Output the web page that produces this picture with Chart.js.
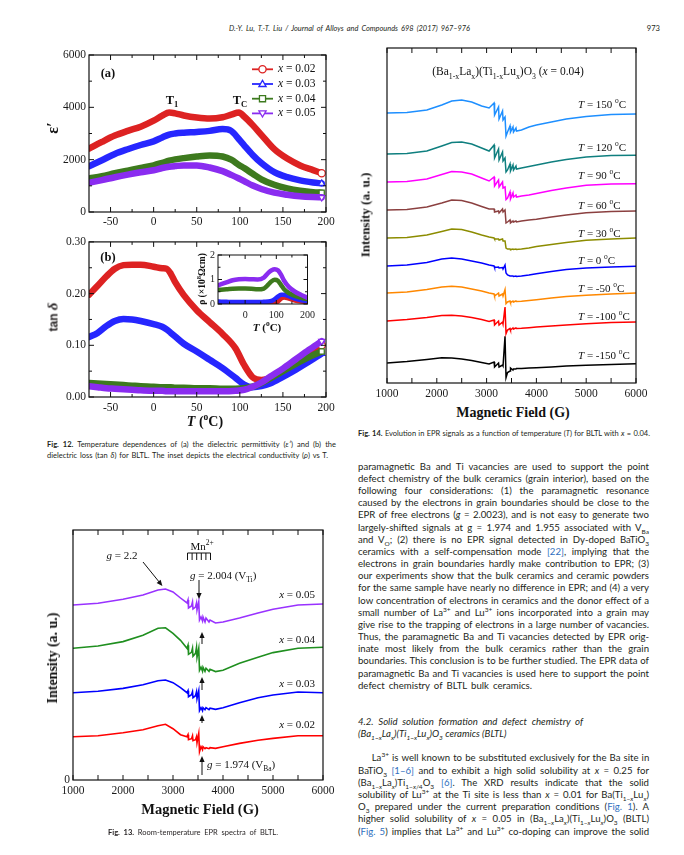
<!DOCTYPE html>
<html>
<head>
<meta charset="utf-8">
<script src="https://cdn.jsdelivr.net/npm/chart.js@4.4.1/dist/chart.umd.min.js"></script>
<style>
html, body { margin: 0; padding: 0; background: #fff; }
#page { position: relative; width: 684px; height: 855px; overflow: hidden; background: #fff; color: #231f20; }
.box { position: absolute; }
.t { position: absolute; white-space: nowrap; line-height: 1; }
.ser { font-family: 'Liberation Serif', 'Times New Roman', serif; color: #111; }
.txt { font-family: Lato, 'Open Sans', sans-serif; }
.c { transform: translate(-50%, -50%); }
.l { transform: translate(0, -50%); }
.r { transform: translate(-100%, -50%); }
.rot { transform: translate(-50%, -50%) rotate(-90deg); }
sub, sup { font-size: 68%; line-height: 0; }
.ln { position: absolute; left: 358px; white-space: nowrap; font-family: Lato, sans-serif; font-size: 9.6px; line-height: 12px; color: #231f20; transform: translate(0, -50%); }
.cap { position: absolute; white-space: nowrap; font-family: Lato, sans-serif; font-size: 7.5px; line-height: 10px; color: #231f20; transform: translate(0, -50%); }
a { color: #2f6fc0; text-decoration: none; }
</style>
</head>
<body>
<div id="page">
  <!-- running head -->
  <div class="t txt l" style="left:229px;top:29px;font-size:7.4px;font-style:italic" data-w="241">D.-Y. Lu, T.-T. Liu / Journal of Alloys and Compounds 698 (2017) 967–976</div>
  <div class="t txt r" style="left:660px;top:29px;font-size:7.6px">973</div>

  <!-- Fig. 12 -->
  <div class="box" style="left:50px;top:45px;width:290px;height:185px"><canvas id="fig12a"></canvas></div>
  <div class="box" style="left:50px;top:232px;width:290px;height:185px"><canvas id="fig12b"></canvas></div>
  <div class="box" style="left:198px;top:246px;width:122px;height:76px"><canvas id="fig12inset"></canvas></div>
  <div class="t ser c" style="left:108px;top:73px;font-size:12.5px;font-weight:bold">(a)</div>
  <div class="t ser c" style="left:108px;top:257px;font-size:12.5px;font-weight:bold">(b)</div>
  <div class="t ser c" style="left:172px;top:100px;font-size:12.5px;font-weight:bold">T<sub>1</sub></div>
  <div class="t ser c" style="left:240px;top:100px;font-size:12.5px;font-weight:bold">T<sub>C</sub></div>
  <div class="t ser rot" style="left:53px;top:128px;font-size:16px;font-weight:bold">ε′</div>
  <div class="t rot" style="left:53px;top:317px;font-size:12px;font-weight:bold;font-family:'Liberation Sans',sans-serif">tan <span style="font-family:'Liberation Serif';font-size:15px;font-style:italic">δ</span></div>
  <div class="t ser rot" style="left:203px;top:279px;font-size:9.5px;font-weight:bold">ρ (×10<sup>8</sup>Ωcm)</div>
  <div class="t ser c" style="left:267px;top:327px;font-size:11px;font-weight:bold"><i>T</i> (<sup>o</sup>C)</div>
  <div class="t ser c" style="left:205px;top:422px;font-size:14px;font-weight:bold"><i>T</i> (<sup>o</sup>C)</div>
  <div class="cap" style="left:47px;top:445px" data-w="289"><b>Fig. 12.</b> Temperature dependences of (a) the dielectric permittivity (<i>ε′</i>) and (b) the</div>
  <div class="cap" style="left:47px;top:455.7px" data-w="281">dielectric loss (tan <i>δ</i>) for BLTL. The inset depicts the electrical conductivity (<i>ρ</i>) vs T.</div>

  <!-- Fig. 14 -->
  <div class="box" style="left:370px;top:40px;width:300px;height:365px"><canvas id="fig14"></canvas></div>
  <div class="t ser c" style="left:508px;top:72px;font-size:11.5px">(Ba<sub>1-x</sub>La<sub>x</sub>)(Ti<sub>1-x</sub>Lu<sub>x</sub>)O<sub>3</sub> (<i>x</i> = 0.04)</div>
  <div class="t ser l" style="left:578px;top:104px;font-size:11px"><i>T</i> = 150 <sup>o</sup>C</div>
  <div class="t ser l" style="left:578px;top:147px;font-size:11px"><i>T</i> = 120 <sup>o</sup>C</div>
  <div class="t ser l" style="left:578px;top:175px;font-size:11px"><i>T</i> = 90 <sup>o</sup>C</div>
  <div class="t ser l" style="left:578px;top:205px;font-size:11px"><i>T</i> = 60 <sup>o</sup>C</div>
  <div class="t ser l" style="left:578px;top:233px;font-size:11px"><i>T</i> = 30 <sup>o</sup>C</div>
  <div class="t ser l" style="left:578px;top:260px;font-size:11px"><i>T</i> = 0 <sup>o</sup>C</div>
  <div class="t ser l" style="left:578px;top:288px;font-size:11px"><i>T</i> = -50 <sup>o</sup>C</div>
  <div class="t ser l" style="left:578px;top:316px;font-size:11px"><i>T</i> = -100 <sup>o</sup>C</div>
  <div class="t ser l" style="left:578px;top:355px;font-size:11px"><i>T</i> = -150 <sup>o</sup>C</div>
  <div class="t ser rot" style="left:365px;top:215px;font-size:13px;font-weight:bold">Intensity (a. u.)</div>
  <div class="t ser c" style="left:513px;top:413px;font-size:14px;font-weight:bold">Magnetic Field (G)</div>
  <div class="cap" style="left:358px;top:434px" data-w="292"><b>Fig. 14.</b> Evolution in EPR signals as a function of temperature (<i>T</i>) for BLTL with <i>x</i> = 0.04.</div>

  <!-- Fig. 13 -->
  <div class="box" style="left:50px;top:520px;width:290px;height:282px"><canvas id="fig13"></canvas></div>
  <div class="t ser c" style="left:122px;top:555px;font-size:11px"><i>g</i> = 2.2</div>
  <div class="t ser c" style="left:202px;top:546px;font-size:11px">Mn<sup>2+</sup></div>
  <div class="t ser l" style="left:190px;top:575px;font-size:11px"><i>g</i> = 2.004 (V<sub>Ti</sub>)</div>
  <div class="t ser r" style="left:315px;top:594px;font-size:11px"><i>x</i> = 0.05</div>
  <div class="t ser r" style="left:315px;top:639px;font-size:11px"><i>x</i> = 0.04</div>
  <div class="t ser r" style="left:315px;top:683px;font-size:11px"><i>x</i> = 0.03</div>
  <div class="t ser r" style="left:315px;top:724px;font-size:11px"><i>x</i> = 0.02</div>
  <div class="t ser l" style="left:207px;top:764px;font-size:11px"><i>g</i> = 1.974 (V<sub>Ba</sub>)</div>
  <div class="t ser rot" style="left:53px;top:658px;font-size:14px;font-weight:bold">Intensity (a. u.)</div>
  <div class="t ser c" style="left:200px;top:809px;font-size:14.5px;font-weight:bold">Magnetic Field (G)</div>
  <div class="cap" style="left:108px;top:832.7px" data-w="170"><b>Fig. 13.</b> Room-temperature EPR spectra of BLTL.</div>

  <!-- body text -->
  <div class="ln" style="top:466.7px" data-w="291">paramagnetic Ba and Ti vacancies are used to support the point</div>
  <div class="ln" style="top:478.9px" data-w="291">defect chemistry of the bulk ceramics (grain interior), based on the</div>
  <div class="ln" style="top:491.0px" data-w="291">following four considerations: (1) the paramagnetic resonance</div>
  <div class="ln" style="top:503.2px" data-w="291">caused by the electrons in grain boundaries should be close to the</div>
  <div class="ln" style="top:515.4px" data-w="291">EPR of free electrons (<i>g</i> = 2.0023), and is not easy to generate two</div>
  <div class="ln" style="top:527.6px" data-w="291">largely-shifted signals at g = 1.974 and 1.955 associated with V<sub>Ba</sub></div>
  <div class="ln" style="top:539.7px" data-w="291">and V<sub>O</sub>; (2) there is no EPR signal detected in Dy-doped BaTiO<sub>3</sub></div>
  <div class="ln" style="top:551.9px" data-w="291">ceramics with a self-compensation mode <a>[22]</a>, implying that the</div>
  <div class="ln" style="top:564.1px" data-w="291">electrons in grain boundaries hardly make contribution to EPR; (3)</div>
  <div class="ln" style="top:576.2px" data-w="291">our experiments show that the bulk ceramics and ceramic powders</div>
  <div class="ln" style="top:588.4px" data-w="291">for the same sample have nearly no difference in EPR; and (4) a very</div>
  <div class="ln" style="top:600.6px" data-w="291">low concentration of electrons in ceramics and the donor effect of a</div>
  <div class="ln" style="top:612.7px" data-w="291">small number of La<sup>3+</sup> and Lu<sup>3+</sup> ions incorporated into a grain may</div>
  <div class="ln" style="top:624.9px" data-w="291">give rise to the trapping of electrons in a large number of vacancies.</div>
  <div class="ln" style="top:637.1px" data-w="291">Thus, the paramagnetic Ba and Ti vacancies detected by EPR orig-</div>
  <div class="ln" style="top:649.3px" data-w="291">inate most likely from the bulk ceramics rather than the grain</div>
  <div class="ln" style="top:661.4px" data-w="291">boundaries. This conclusion is to be further studied. The EPR data of</div>
  <div class="ln" style="top:673.6px" data-w="291">paramagnetic Ba and Ti vacancies is used here to support the point</div>
  <div class="ln" style="top:685.8px" data-w="174">defect chemistry of BLTL bulk ceramics.</div>
  <div class="ln" style="top:721.7px;font-style:italic" data-w="225">4.2. Solid solution formation and defect chemistry of</div>
  <div class="ln" style="top:734.3px;font-style:italic">(Ba<sub>1−<i>x</i></sub>La<sub><i>x</i></sub>)(Ti<sub>1−<i>x</i></sub>Lu<sub><i>x</i></sub>)O<sub>3</sub> ceramics (BLTL)</div>
  <div class="ln" style="top:758.3px;left:371.7px" data-w="277.6">La<sup>3+</sup> is well known to be substituted exclusively for the Ba site in</div>
  <div class="ln" style="top:770.5px" data-w="291">BaTiO<sub>3</sub> <a>[1–6]</a> and to exhibit a high solid solubility at <i>x</i> = 0.25 for</div>
  <div class="ln" style="top:782.7px" data-w="291">(Ba<sub>1−<i>x</i></sub>La<sub><i>x</i></sub>)Ti<sub>1−<i>x</i>/4</sub>O<sub>3</sub> <a>[6]</a>. The XRD results indicate that the solid</div>
  <div class="ln" style="top:794.9px" data-w="291">solubility of Lu<sup>3+</sup> at the Ti site is less than <i>x</i> = 0.01 for Ba(Ti<sub>1−<i>x</i></sub>Lu<sub><i>x</i></sub>)</div>
  <div class="ln" style="top:807.1px" data-w="291">O<sub>3</sub> prepared under the current preparation conditions (<a>Fig. 1</a>). A</div>
  <div class="ln" style="top:819.3px" data-w="291">higher solid solubility of <i>x</i> = 0.05 in (Ba<sub>1−<i>x</i></sub>La<sub><i>x</i></sub>)(Ti<sub>1−<i>x</i></sub>Lu<sub><i>x</i></sub>)O<sub>3</sub> (BLTL)</div>
  <div class="ln" style="top:831.5px" data-w="291">(<a>Fig. 5</a>) implies that La<sup>3+</sup> and Lu<sup>3+</sup> co-doping can improve the solid</div>
</div>

<script>
// 1. Fig. 12 data (permittivity, loss, resistivity vs temperature)
const SAMPLES = ['0.02', '0.03', '0.04', '0.05'];

const T12A = [-75, -60, -45, -30, -15, 0, 10, 18, 25, 35, 50, 65, 80, 90, 99, 105, 115, 125, 140, 155, 170, 185, 195];
const EPS_002 = [2420, 2680, 2920, 3100, 3260, 3490, 3680, 3800, 3770, 3690, 3610, 3570, 3620, 3720, 3800, 3650, 3320, 2950, 2400, 2040, 1780, 1600, 1480];
const EPS_003 = [1750, 1980, 2220, 2400, 2560, 2700, 2850, 2960, 3000, 3030, 3060, 3100, 3170, 3100, 2780, 2550, 2180, 1870, 1520, 1330, 1210, 1130, 1090];
const EPS_004 = [1280, 1370, 1480, 1580, 1680, 1785, 1880, 1960, 2010, 2060, 2120, 2160, 2120, 2000, 1800, 1680, 1460, 1250, 1040, 900, 810, 760, 735];
const EPS_005 = [1115, 1220, 1330, 1430, 1520, 1595, 1680, 1730, 1755, 1780, 1780, 1700, 1560, 1420, 1280, 1180, 1010, 880, 740, 660, 600, 570, 560];

const T12B = [-75, -65, -55, -45, -35, -25, -15, 0, 10, 15, 20, 25, 35, 50, 65, 80, 95, 105, 115, 125, 135, 150, 165, 180, 195];
const TAN_002 = [0.198, 0.215, 0.233, 0.248, 0.255, 0.256, 0.256, 0.252, 0.249, 0.248, 0.238, 0.222, 0.197, 0.168, 0.145, 0.122, 0.094, 0.062, 0.038, 0.033, 0.036, 0.048, 0.063, 0.080, 0.100];
const TAN_003 = [0.116, 0.124, 0.137, 0.147, 0.151, 0.150, 0.147, 0.141, 0.136, 0.131, 0.124, 0.117, 0.103, 0.088, 0.072, 0.056, 0.037, 0.024, 0.019, 0.021, 0.026, 0.039, 0.053, 0.068, 0.084];
const TAN_004 = [0.027, 0.026, 0.025, 0.024, 0.023, 0.022, 0.021, 0.020, 0.019, 0.019, 0.019, 0.018, 0.018, 0.017, 0.017, 0.016, 0.016, 0.017, 0.020, 0.027, 0.036, 0.050, 0.064, 0.077, 0.088];
const TAN_005 = [0.021, 0.019, 0.017, 0.016, 0.015, 0.014, 0.013, 0.012, 0.012, 0.011, 0.011, 0.011, 0.011, 0.011, 0.011, 0.011, 0.012, 0.014, 0.020, 0.028, 0.039, 0.055, 0.073, 0.091, 0.108];

const T_INSET = [-85, -60, -40, -20, 0, 20, 40, 60, 75, 85, 95, 105, 115, 125, 140, 160, 180, 200];
const RHO_002 = [0.01, 0.01, 0.01, 0.01, 0.01, 0.01, 0.01, 0.01, 0.01, 0.02, 0.04, 0.10, 0.22, 0.27, 0.22, 0.14, 0.10, 0.08];
const RHO_003 = [0.10, 0.09, 0.08, 0.08, 0.08, 0.08, 0.08, 0.09, 0.10, 0.13, 0.20, 0.30, 0.38, 0.38, 0.32, 0.22, 0.15, 0.12];
const RHO_004 = [0.58, 0.60, 0.62, 0.63, 0.63, 0.62, 0.60, 0.63, 0.80, 0.93, 0.99, 0.95, 0.78, 0.60, 0.45, 0.33, 0.25, 0.20];
const RHO_005 = [0.77, 0.88, 0.97, 1.01, 1.02, 1.01, 1.00, 1.08, 1.28, 1.38, 1.42, 1.38, 1.20, 0.95, 0.70, 0.50, 0.37, 0.25];

const T12_TICKS = [-50, 0, 50, 100, 150, 200];
const EPS_TICKS = [0, 2000, 4000, 6000];
const TAN_TICKS = [0, 0.1, 0.2, 0.3];
const INSET_T_TICKS = [0, 100, 200];
const RHO_TICKS = [0, 1, 2];

// 2. Fig. 14 data (EPR vs temperature, x = 0.04), intensity relative to each trace's left end
const FIELD14 = [1000, 1400, 1800, 2100, 2300, 2500, 2700, 2900, 3050, 3150, 3160, 3240, 3250, 3320, 3330, 3370, 3390, 3420, 3470, 3480, 3530, 3540, 3590, 3600, 3700, 3850, 4000, 4300, 4600, 5000, 5500, 6000];
const TEMPS14 = ['150', '120', '90', '60', '30', '0', '-50', '-100', '-150'];
const EPR_150 = [0, 0.5, 3, 8, 12, 13, 11, 7, 5, 10, -2, 6, -6, 2, -7, -4, -23, -19, -13, -19, -14, -19, -15, -18, -17, -14, -12, -9, -6, -3.5, -1.5, -1];
const EPR_120 = [0, 0.5, 3, 8, 11.5, 12, 10, 6, 3, 9, -4, 5, -6, 2, -7, -4, -18, -16, -10, -17, -11, -16, -12, -15, -14, -12.5, -11, -8, -5.5, -3, -1.5, -1.3];
const EPR_90 = [0, 0.5, 3, 7.5, 10.5, 10, 8, 4, 1, 5, -4, 2, -5, 0, -6, -5, -17.5, -16, -10, -17, -11, -15, -13, -15, -14, -13, -11.5, -8.5, -6, -3.3, -2, -1.7];
const EPR_60 = [0, 0.5, 3, 7, 10, 9.5, 7, 3.5, 1, 1, -2, -1, -3, 1, -2, 0, -13, -12, -10, -13, -11, -12, -11, -12, -11, -10, -9.3, -7, -5, -2.7, -1.5, -1];
const EPR_30 = [0, 0.5, 3, 6.5, 9, 8.5, 6, 3, 1, 0, -1, -1, -2, -1, -3, -3, -10, -11, -11, -11.5, -11, -11.5, -11, -11.5, -11, -10, -8.5, -6.5, -4.5, -2.3, -1, 0];
const EPR_0 = [0, 1, 3.5, 7, 8, 7, 5, 3, 1, 0, -1.5, -1, -2, -1.5, -3, 1, -7, -9, -10, -10, -10, -10.5, -10, -10.5, -10, -9, -7.7, -5.5, -3.5, -2, -1, -0.3];
const EPR_M50 = [0, 1, 3.5, 6, 6.7, 6, 4, 2, 0, -1, -3, 0, -3, -1, -3, 3.5, -10.7, -9, -8, -9.5, -8, -9, -8, -8.5, -8.3, -7.5, -6.7, -5, -3.5, -2.3, -1, 0];
const EPR_M100 = [0, 1.5, 3.5, 5.5, 5.7, 5, 3.5, 1.5, -0.5, 1, -4, 0, -4, -1, -3, 14, -12.7, -9, -7.5, -9, -7, -8, -7, -7.5, -7.3, -6.7, -6, -5, -4, -2.7, -1.5, -1];
const EPR_M150 = [0, 1.5, 3.5, 5.3, 5, 4, 2.5, 0.5, -1, 1, -4, 0, -4, -2, -3, 26.7, -14.7, -9.5, -8, -5, -7, -6, -6, -5.5, -5.5, -5, -4.7, -4, -3, -2.3, -1.5, -0.7];
const OFFSET14 = [270, 229, 201, 173, 145, 117, 90, 62, 20];

// 3. Fig. 13 data (room-temperature EPR for x = 0.05 ... 0.02)
const FIELD13 = [1000, 1500, 2000, 2400, 2700, 2850, 3000, 3150, 3280, 3300, 3310, 3370, 3390, 3400, 3450, 3470, 3480, 3515, 3530, 3560, 3590, 3600, 3640, 3660, 3720, 3740, 3850, 4000, 4330, 4700, 5000, 5500, 6000];
const EPR13_005 = [0, 1.7, 5.7, 10, 15, 16, 13, 7, 2, 5, -3, -1, 3, -4, -2, 2, -5, 3.3, -15, -12, -16, -12, -17, -13, -17, -15, -18, -17, -13, -8, -4.3, 0, 1];
const EPR13_004 = [0, 2.3, 6.7, 13, 20, 20.5, 15, 8, 0, 3, -6, -4, 0, -8, -5, 1, -9, 0, -22, -19, -23, -19, -23, -20, -23, -21, -23.3, -22, -15, -9, -4.3, 0, 1];
const EPR13_003 = [0, 1.5, 4.3, 8, 12, 12.7, 10, 5, 0, 2, -4, -2, 1, -5, -3, 1, -6, 2, -18, -15, -18, -15, -17, -15, -17, -15.5, -16.7, -15, -10, -5, -2.3, 0.7, 0];
const EPR13_002 = [0, 1, 4, 7, 11, 12.4, 8, 2, 0, 2, -3, -2, 1, -4, -3, 0, -6, 3.3, -15, -10, -13, -10, -12, -11, -12, -11, -11.7, -10, -6.7, -3.5, -1.7, 1, 1];
const OFFSET13 = [175, 131.7, 87.3, 43.3];

const FIELD_TICKS = [1000, 2000, 3000, 4000, 5000, 6000];
const FIELD_MINOR = [1500, 2500, 3500, 4500, 5500];

// 4. Helpers
const pts = (xs, ys, off = 0) => xs.map((x, i) => ({ x, y: ys[i] + off }));
const serif = size => ({ family: "'Liberation Serif', 'Times New Roman', serif", size });

function axis(min, max, ticks, fit, isX, opts = {}) {
    return {
        type: 'linear', min, max,
        grid: { display: false, drawTicks: false },
        border: { display: false },
        ticks: {
            display: ticks.length > 0,
            font: serif(opts.size || 11.5),
            color: '#1a1a1a',
            padding: opts.pad || 3,
            maxRotation: 0,
            autoSkip: false,
            callback: opts.fmt || (v => String(v))
        },
        afterBuildTicks: s => { s.ticks = ticks.map(v => ({ value: v })); },
        afterFit: s => { if (isX) s.height = fit; else s.width = fit; }
    };
}

function framePlugin(f) {
    return {
        id: 'frame',
        afterDatasetsDraw(chart) {
            const { ctx, chartArea: a, scales: { x, y } } = chart;
            ctx.save();
            ctx.strokeStyle = '#111';
            ctx.lineWidth = f.lw || 1.2;
            ctx.strokeRect(a.left, a.top, a.right - a.left, a.bottom - a.top);
            ctx.lineWidth = 1;
            ctx.beginPath();
            const xt = (vals, len) => (vals || []).forEach(v => {
                const p = x.getPixelForValue(v);
                ctx.moveTo(p, a.bottom); ctx.lineTo(p, a.bottom - len);
                if (f.top) { ctx.moveTo(p, a.top); ctx.lineTo(p, a.top + len); }
            });
            const yt = (vals, len) => (vals || []).forEach(v => {
                const p = y.getPixelForValue(v);
                ctx.moveTo(a.left, p); ctx.lineTo(a.left + len, p);
                if (f.right) { ctx.moveTo(a.right, p); ctx.lineTo(a.right - len, p); }
            });
            xt(f.xMajor, f.len || 5); xt(f.xMinor, f.minor || 3);
            yt(f.yMajor, f.len || 5); yt(f.yMinor, f.minor || 3);
            ctx.stroke();
            ctx.restore();
        }
    };
}

function drawMark(ctx, style, x, y, r, color) {
    ctx.save();
    ctx.fillStyle = '#fff';
    ctx.strokeStyle = color;
    ctx.lineWidth = 1.3;
    ctx.beginPath();
    if (style === 'circle') ctx.arc(x, y, r, 0, Math.PI * 2);
    else if (style === 'rect') ctx.rect(x - r * 0.85, y - r * 0.85, r * 1.7, r * 1.7);
    else if (style === 'up') { ctx.moveTo(x, y - r); ctx.lineTo(x + r, y + r * 0.7); ctx.lineTo(x - r, y + r * 0.7); ctx.closePath(); }
    else { ctx.moveTo(x, y + r); ctx.lineTo(x + r, y - r * 0.7); ctx.lineTo(x - r, y - r * 0.7); ctx.closePath(); }
    ctx.fill(); ctx.stroke();
    ctx.restore();
}

function makeChart(id, datasets, scales, m, plugins) {
    return new Chart(document.getElementById(id), {
        type: 'line',
        data: { datasets },
        options: {
            responsive: true,
            maintainAspectRatio: false,
            animation: false,
            events: [],
            layout: { padding: { top: m.t, right: m.r, left: 0, bottom: 0 }, autoPadding: false },
            plugins: { legend: { display: false }, tooltip: { enabled: false } },
            scales
        },
        plugins
    });
}

// 5. Fig. 12
const C12 = ['#dd2222', '#2626ff', '#3d7a1e', '#8a2cf0'];
const MARKS = [
    { style: 'circle', ps: 'circle', rot: 0 },
    { style: 'up', ps: 'triangle', rot: 0 },
    { style: 'rect', ps: 'rect', rot: 0 },
    { style: 'down', ps: 'triangle', rot: 180 }
];

function thickSet(xs, ys, i, width) {
    const n = xs.length;
    return {
        data: pts(xs, ys),
        borderColor: C12[i],
        borderWidth: width,
        borderCapStyle: 'round',
        borderJoinStyle: 'round',
        cubicInterpolationMode: 'monotone',
        pointRadius: ctx => (ctx.dataIndex === n - 1 ? 3.6 : 0),
        pointStyle: MARKS[i].ps,
        pointRotation: MARKS[i].rot,
        pointBackgroundColor: '#fff',
        pointBorderColor: C12[i],
        pointBorderWidth: 1.2,
        order: 3 - i
    };
}

const legend12 = {
    id: 'legend12',
    afterDatasetsDraw(chart) {
        const { ctx, chartArea: a } = chart;
        SAMPLES.forEach((s, i) => {
            const y = a.top + 14.3 + 14.7 * i;
            ctx.save();
            ctx.strokeStyle = C12[i];
            ctx.lineWidth = 1.8;
            ctx.beginPath(); ctx.moveTo(a.left + 163, y); ctx.lineTo(a.left + 184, y); ctx.stroke();
            ctx.restore();
            drawMark(ctx, MARKS[i].style, a.left + 173.5, y, 3.6, C12[i]);
            ctx.save();
            ctx.fillStyle = '#111';
            ctx.textBaseline = 'middle';
            ctx.font = "italic 11.5px 'Liberation Serif'";
            ctx.fillText('x', a.left + 189, y);
            const w = ctx.measureText('x').width;
            ctx.font = "11.5px 'Liberation Serif'";
            ctx.fillText(' = ' + s, a.left + 189 + w, y);
            ctx.restore();
        });
    }
};

makeChart('fig12a',
    [EPS_002, EPS_003, EPS_004, EPS_005].map((v, i) => thickSet(T12A, v, i, 6.5)),
    {
        x: axis(-75, 200, T12_TICKS, 18, true, { pad: 3 }),
        y: axis(0, 6000, EPS_TICKS, 39, false, { pad: 3 })
    },
    { t: 10, r: 14 },
    [framePlugin({ xMajor: T12_TICKS, xMinor: [-25, 25, 75, 125, 175], yMajor: EPS_TICKS, yMinor: [1000, 3000, 5000], top: true, right: true }), legend12]
);

makeChart('fig12b',
    [TAN_002, TAN_003, TAN_004, TAN_005].map((v, i) => thickSet(T12B, v, i, 6.5)),
    {
        x: axis(-75, 200, T12_TICKS, 20, true, { pad: 4 }),
        y: axis(0, 0.3, TAN_TICKS, 39, false, { pad: 3, fmt: v => v.toFixed(2) })
    },
    { t: 8, r: 14 },
    [framePlugin({ xMajor: T12_TICKS, xMinor: [-25, 25, 75, 125, 175], yMajor: TAN_TICKS, yMinor: [0.05, 0.15, 0.25], top: true, right: true })]
);

makeChart('fig12inset',
    [RHO_002, RHO_003, RHO_004, RHO_005].map((v, i) => ({ ...thickSet(T_INSET, v, i, 4.5), pointRadius: 0 })),
    {
        x: axis(-87, 200, INSET_T_TICKS, 18, true, { pad: 5, size: 10 }),
        y: axis(0, 2, RHO_TICKS, 20, false, { pad: 3, size: 10 })
    },
    { t: 6, r: 7 },
    [framePlugin({ xMajor: INSET_T_TICKS, xMinor: [-50, 50, 150], yMajor: RHO_TICKS, yMinor: [0.5, 1.5], top: true, right: true, len: 4, minor: 2.5, lw: 1 })]
);

// 6. Fig. 14
const C14 = ['#1e8fff', '#0f7f7f', '#ff00ff', '#8b4040', '#8c8c00', '#0000ff', '#ff8800', '#ff0000', '#000000'];
const EPR14 = [EPR_150, EPR_120, EPR_90, EPR_60, EPR_30, EPR_0, EPR_M50, EPR_M100, EPR_M150];

makeChart('fig14',
    EPR14.map((v, i) => ({
        label: TEMPS14[i],
        data: pts(FIELD14, v, OFFSET14[i]),
        borderColor: C14[i],
        borderWidth: 1.5,
        tension: 0,
        pointRadius: 0
    })),
    {
        x: axis(1000, 6000, FIELD_TICKS, 22, true, { pad: 4 }),
        y: axis(0, 335, [], 17, false)
    },
    { t: 8, r: 34 },
    [framePlugin({ xMajor: FIELD_TICKS, xMinor: FIELD_MINOR, len: 5, minor: 5, top: true })]
);

// 7. Fig. 13
const C13 = ['#9932ff', '#1f8f1f', '#0000ff', '#ff0000'];
const EPR13 = [EPR13_005, EPR13_004, EPR13_003, EPR13_002];
const ARROWS13 = [
    [2400, 218, 2788, 194],
    [3520, 200, 3520, 181],
    [3580, 136, 3580, 148],
    [3580, 90, 3580, 103],
    [3580, 57, 3580, 65],
    [3580, 5, 3580, 24]
];
const MN_LINES = [3290, 3382, 3474, 3566, 3658, 3750];

const notes13 = {
    id: 'notes13',
    afterDatasetsDraw(chart) {
        const { ctx, scales: { x, y } } = chart;
        ctx.save();
        ctx.strokeStyle = '#111';
        ctx.fillStyle = '#111';
        ctx.lineWidth = 1;
        ARROWS13.forEach(([f0, i0, f1, i1]) => {
            const x0 = x.getPixelForValue(f0), y0 = y.getPixelForValue(i0);
            const x1 = x.getPixelForValue(f1), y1 = y.getPixelForValue(i1);
            const ang = Math.atan2(y1 - y0, x1 - x0);
            ctx.beginPath(); ctx.moveTo(x0, y0); ctx.lineTo(x1 - 4 * Math.cos(ang), y1 - 4 * Math.sin(ang)); ctx.stroke();
            ctx.beginPath();
            ctx.moveTo(x1, y1);
            ctx.lineTo(x1 - 6 * Math.cos(ang) + 2.6 * Math.sin(ang), y1 - 6 * Math.sin(ang) - 2.6 * Math.cos(ang));
            ctx.lineTo(x1 - 6 * Math.cos(ang) - 2.6 * Math.sin(ang), y1 - 6 * Math.sin(ang) + 2.6 * Math.cos(ang));
            ctx.closePath(); ctx.fill();
        });
        const top = y.getPixelForValue(227), bot = y.getPixelForValue(220);
        ctx.beginPath();
        ctx.moveTo(x.getPixelForValue(MN_LINES[0]), top);
        ctx.lineTo(x.getPixelForValue(MN_LINES[MN_LINES.length - 1]), top);
        MN_LINES.forEach(f => { const p = x.getPixelForValue(f); ctx.moveTo(p, top); ctx.lineTo(p, bot); });
        ctx.stroke();
        ctx.restore();
    }
};

makeChart('fig13',
    EPR13.map((v, i) => ({
        label: SAMPLES[3 - i],
        data: pts(FIELD13, v, OFFSET13[i]),
        borderColor: C13[i],
        borderWidth: 1.6,
        tension: 0,
        pointRadius: 0
    })),
    {
        x: axis(1000, 6000, FIELD_TICKS, 22, true, { pad: 4 }),
        y: axis(0, 250, [0], 23, false, { pad: 3 })
    },
    { t: 10, r: 17 },
    [framePlugin({ xMajor: FIELD_TICKS, xMinor: FIELD_MINOR, len: 5, minor: 5, top: true }), notes13]
);

// 8. Justify text lines to the column widths
function fitLines() {
    document.querySelectorAll('[data-w]').forEach(el => {
        el.style.wordSpacing = '0px';
        const w = el.getBoundingClientRect().width;
        const n = (el.textContent.match(/ /g) || []).length;
        if (n) el.style.wordSpacing = ((+el.dataset.w - w) / n) + 'px';
    });
}
fitLines();
if (document.fonts && document.fonts.ready) document.fonts.ready.then(fitLines);
</script>
</body>
</html>
